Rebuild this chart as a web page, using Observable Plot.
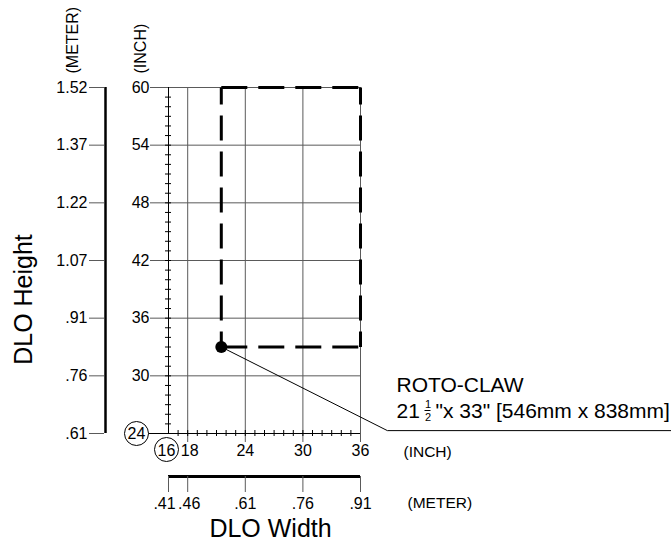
<!DOCTYPE html>
<html><head><meta charset="utf-8">
<script src="https://cdn.jsdelivr.net/npm/d3@7"></script>
<script src="https://cdn.jsdelivr.net/npm/@observablehq/plot@0.6"></script>
<style>html,body{margin:0;padding:0;background:#fff;} svg{display:block}</style>
</head><body><div id="chart"></div>
<script>
// ---- data ----
const xInch = [16, 18, 24, 30, 36];
const xMeter = [".41", ".46", ".61", ".76", ".91"];
const yInch = [24, 30, 36, 42, 48, 54, 60];
const yMeter = [".61", ".76", ".91", "1.07", "1.22", "1.37", "1.52"];
const xMinor = [17, 18, 19, 20, 21, 22, 23, 24, 25, 26, 27, 28, 29, 30, 31, 32, 33, 34, 35];
const yMinor = [25, 26, 27, 28, 29, 30, 31, 32, 33, 34, 35, 36, 37, 38, 39, 40, 41, 42,
                43, 44, 45, 46, 47, 48, 49, 50, 51, 52, 53, 54, 55, 56, 57, 58, 59];
const minWidth = 16, maxWidth = 36, minHeight = 24, maxHeight = 60;
const productName = ["ROTO-CLAW"];
const productWidth = [21.5];
const productHeight = [33];
const productWhole = ["21"];
const productFracNum = ["1"];
const productFracDen = ["2"];
const productSpec = ['"x 33" [546mm x 838mm]'];
const leaderX = [21.5, 38.8, 68.4];
const leaderY = [33, 24.3, 24.3];

const FONT = "'Liberation Sans', Arial, Helvetica, sans-serif";
const GRID = "#5a5a5a";

const w = productWidth[0], h = productHeight[0];
const hEdges = [{x1: w, x2: maxWidth, y: maxHeight}, {x1: w, x2: maxWidth, y: h}];
const vEdges = [{x: w, y1: maxHeight, y2: h}, {x: maxWidth, y1: maxHeight, y2: h}];
const leader = leaderX.map((x, i) => ({x, y: leaderY[i]}));
const gridX = xInch.filter(d => d !== minWidth);
const gridY = yInch.filter(d => d !== minHeight);

const chart = Plot.plot({
  width: 671,
  height: 544,
  marginLeft: 168,
  marginRight: 311,
  marginTop: 87,
  marginBottom: 111,
  x: {domain: [minWidth, maxWidth], axis: null},
  y: {domain: [minHeight, maxHeight], axis: null},
  style: {fontFamily: FONT, fontSize: "16px", background: "#fff", color: "#000"},
  marks: [
    // gridlines (with inch ticks)
    Plot.ruleX(gridX, {x: d => d, y1: minHeight, y2: maxHeight, insetTop: 9, stroke: GRID, strokeWidth: 1}),
    Plot.ruleY(gridY, {y: d => d, x1: minWidth, x2: maxWidth, insetLeft: -18, stroke: GRID, strokeWidth: 1}),
    // main axis lines
    Plot.ruleX([minWidth], {y1: minHeight, y2: maxHeight, stroke: "#000", strokeWidth: 1}),
    Plot.ruleY([minHeight], {x1: minWidth, x2: maxWidth, insetLeft: -20, stroke: "#000", strokeWidth: 1}),
    // minor ticks
    Plot.ruleY(yMinor, {y: d => d, x1: minWidth, x2: minWidth, insetLeft: -3, insetRight: -3, stroke: "#000"}),
    Plot.ruleX(xMinor, {x: d => d, y1: minHeight, y2: minHeight, insetTop: -3, insetBottom: -3, stroke: "#000"}),
    // inch tick labels (y)
    Plot.text(gridY, {x: minWidth, y: d => d, text: d => String(d), dx: -19, textAnchor: "end", lineAnchor: "middle", fontSize: 16}),
    Plot.dot([minHeight], {x: minWidth, y: d => d, r: 12, dx: -32, stroke: "#000", fill: "#fff", strokeWidth: 1}),
    Plot.text([minHeight], {x: minWidth, y: d => d, text: d => String(d), dx: -32, lineAnchor: "middle", fontSize: 16}),
    // inch tick labels (x)
    Plot.text(xInch.filter(d => d >= 24), {x: d => d, y: minHeight, text: d => String(d), dy: 17, lineAnchor: "middle", fontSize: 16}),
    Plot.text(xInch.filter(d => d === 18), {x: d => d, y: minHeight, text: d => String(d), dx: 2, dy: 17, lineAnchor: "middle", fontSize: 16}),
    Plot.dot([minWidth], {x: d => d, y: minHeight, r: 12, dx: -2, dy: 16, stroke: "#000", fill: "#fff", strokeWidth: 1}),
    Plot.text([minWidth], {x: d => d, y: minHeight, text: d => String(d), dx: -2, dy: 17, lineAnchor: "middle", fontSize: 16}),
    // meter axis (left)
    Plot.ruleX([minWidth], {y1: minHeight, y2: maxHeight, dx: -63, stroke: "#000", strokeWidth: 2.5}),
    Plot.ruleY(yInch, {y: d => d, x1: minWidth, x2: minWidth, insetLeft: -79, insetRight: 64, stroke: GRID}),
    Plot.text(yInch, {x: minWidth, y: d => d, text: (d, i) => yMeter[i], dx: -81, textAnchor: "end", lineAnchor: "middle", fontSize: 16}),
    // meter axis (bottom)
    Plot.ruleY([minHeight], {x1: minWidth, x2: maxWidth, dy: 43, stroke: "#000", strokeWidth: 3}),
    Plot.ruleX(xInch, {x: d => d, y1: minHeight, y2: minHeight, insetTop: 43, insetBottom: -59, stroke: GRID}),
    Plot.text(xInch.slice(2), {x: d => d, y: minHeight, text: (d, i) => xMeter[i + 2], dy: 70, lineAnchor: "middle", fontSize: 16}),
    Plot.text(xInch.slice(0, 1), {x: d => d, y: minHeight, text: (d, i) => xMeter[i], dx: -4, dy: 70, lineAnchor: "middle", fontSize: 16}),
    Plot.text(xInch.slice(1, 2), {x: d => d, y: minHeight, text: (d, i) => xMeter[i + 1], dx: 1.5, dy: 70, lineAnchor: "middle", fontSize: 16}),
    // unit labels
    Plot.text(["(INCH)"], {x: maxWidth, y: minHeight, text: d => d, dx: 43, dy: 19, textAnchor: "start", lineAnchor: "middle", fontSize: 15.5}),
    Plot.text(["(METER)"], {x: maxWidth, y: minHeight, text: d => d, dx: 47, dy: 70, textAnchor: "start", lineAnchor: "middle", fontSize: 15.5}),
    Plot.text(["(METER)"], {frameAnchor: "top-left", text: d => d, dx: -96, dy: -14, rotate: -90, textAnchor: "start", lineAnchor: "middle", fontSize: 16}),
    Plot.text(["(INCH)"], {frameAnchor: "top-left", text: d => d, dx: -28, dy: -14, rotate: -90, textAnchor: "start", lineAnchor: "middle", fontSize: 16}),
    // titles
    Plot.text(["DLO Width"], {frameAnchor: "bottom", text: d => d, dx: 6, dy: 95, textAnchor: "middle", lineAnchor: "middle", fontSize: 25}),
    Plot.text(["DLO Height"], {frameAnchor: "left", text: d => d, dx: -145, dy: 39, rotate: -90, textAnchor: "middle", lineAnchor: "middle", fontSize: 25}),
    // product outline
    Plot.link(hEdges, {x1: "x1", x2: "x2", y1: "y", y2: "y", stroke: "#000", strokeWidth: 3, strokeDasharray: "26,11"}),
    Plot.link(vEdges, {x1: "x", x2: "x", y1: "y1", y2: "y2", stroke: "#000", strokeWidth: 3, strokeDasharray: "25,11", strokeDashoffset: 8}),
    // leader + point
    Plot.line(leader, {x: "x", y: "y", stroke: "#000", strokeWidth: 1}),
    Plot.dot(productWidth, {x: d => d, y: (d, i) => productHeight[i], r: 6, fill: "#000"}),
    // annotation
    Plot.text(productName, {x: maxWidth, y: minHeight, text: d => d, dx: 36, dy: -48, textAnchor: "start", lineAnchor: "middle", fontSize: 21}),
    Plot.text(productWhole, {x: maxWidth, y: minHeight, text: d => d, dx: 36, dy: -22, textAnchor: "start", lineAnchor: "middle", fontSize: 21}),
    Plot.text(productFracNum, {x: maxWidth, y: minHeight, text: d => d, dx: 67.5, dy: -29, lineAnchor: "middle", fontSize: 11}),
    Plot.text(productFracDen, {x: maxWidth, y: minHeight, text: d => d, dx: 67.5, dy: -16.5, lineAnchor: "middle", fontSize: 11}),
    Plot.ruleY([minHeight], {x1: maxWidth, x2: maxWidth, insetLeft: 64.5, insetRight: -70.5, dy: -23, stroke: "#000", strokeWidth: 1}),
    Plot.text(productSpec, {x: maxWidth, y: minHeight, text: d => d, dx: 75, dy: -22, textAnchor: "start", lineAnchor: "middle", fontSize: 21})
  ]
});
document.getElementById("chart").appendChild(chart);
</script>
</body></html>
